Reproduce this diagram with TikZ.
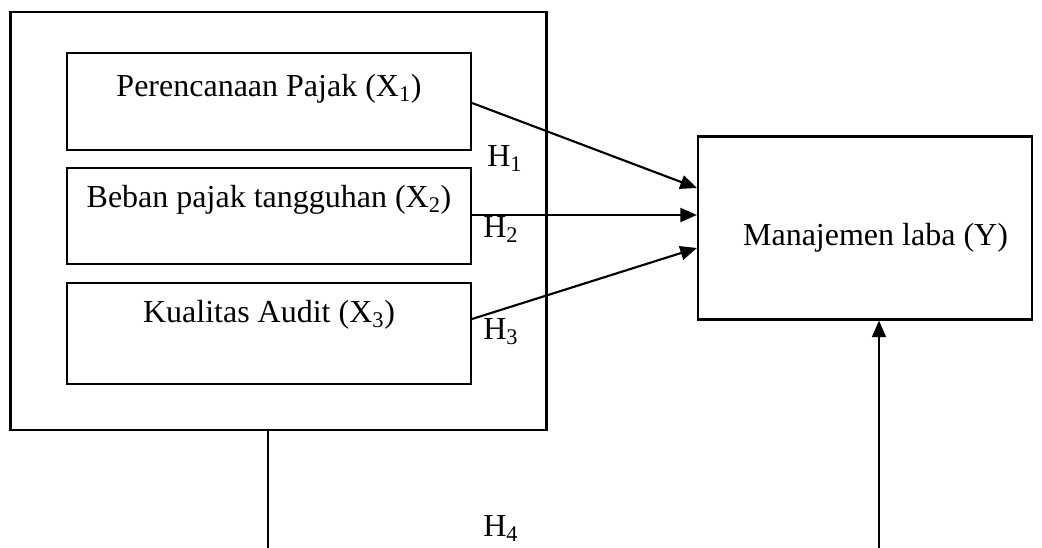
\documentclass[tikz,border=0pt]{standalone}
\usepackage{fontspec}
\setmainfont{Liberation Serif}
\usetikzlibrary{arrows.meta,calc}
\begin{document}
\begin{tikzpicture}[x=0.75pt,y=-0.75pt,line join=miter]
  \tikzstyle{box}=[draw,line width=1.6pt,rectangle,inner sep=0pt]
  \tikzstyle{txt}=[inner sep=0pt,anchor=base,font=\fontsize{24}{28}\selectfont]
  \tikzstyle{link}=[line width=1.6pt,-{Triangle[length=12.5pt,width=10.5pt]}]
  \useasboundingbox (0,0) rectangle (1042,548);
  \node[box,minimum width=402pt,minimum height=313.5pt] (outer) at (278.5,221) {};
  \node[box,minimum width=303pt,minimum height=72.75pt] (box1) at (269,101.5) {};
  \node[box,minimum width=303pt,minimum height=72pt]    (box2) at (269,216) {};
  \node[box,minimum width=303pt,minimum height=75.75pt] (box3) at (269,333.5) {};
  \node[box,minimum width=250.5pt,minimum height=137.25pt] (res) at (865,228) {};
  \node[txt] (t1) at ($(box1.center)+(0,-4.5)$) {Perencanaan Pajak (X\textsubscript{1})};
  \node[txt] (t2) at ($(box2.center)+(0,-8)$) {Beban pajak tangguhan (X\textsubscript{2})};
  \node[txt] (t3) at ($(box3.center)+(0,-10.5)$) {Kualitas Audit (X\textsubscript{3})};
  \node[txt] (ty) at ($(res.center)+(10.5,18)$) {Manajemen laba (Y)};
  \node[txt,anchor=base west] (h1) at (487,167) {H\textsubscript{1}};
  \node[txt,anchor=base west] (h2) at (483,238) {H\textsubscript{2}};
  \node[txt,anchor=base west] (h3) at (483,340) {H\textsubscript{3}};
  \node[txt,anchor=base west] (h4) at (483,537) {H\textsubscript{4}};
  \coordinate (b1) at (268,548);
  \coordinate (b2) at (879,548);
  \draw [link] ($(box1.east)+(0,1.5)$) -- ($(res.west)+(0,-40)$);
  \draw [link] ($(box2.east)+(0,-1)$) -- ($(res.west)+(0,-13)$);
  \draw [link] ($(box3.east)+(0,-14.5)$) -- ($(res.west)+(0,20)$);
  \draw [line width=1.1pt] (b1 |- outer.south) -- (b1);
  \draw [link] (b2) -- (b2 |- res.south);
\end{tikzpicture}
\end{document}
